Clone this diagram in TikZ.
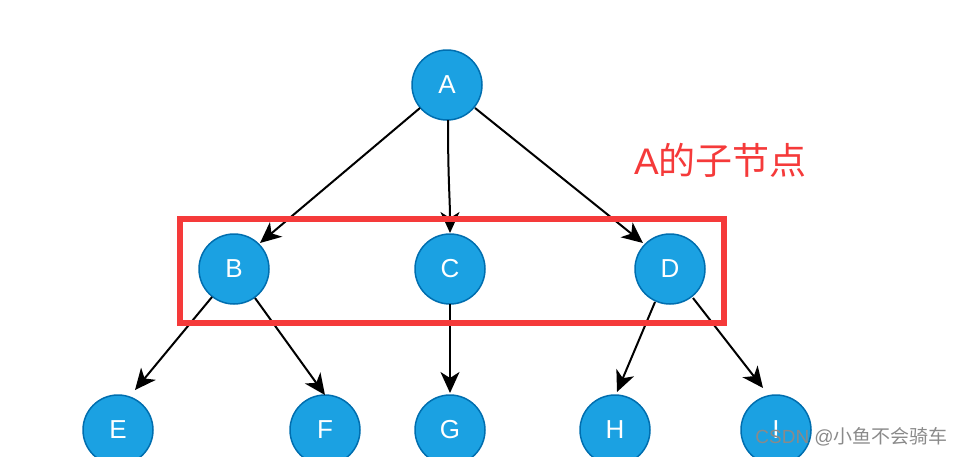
\documentclass[tikz,border=0pt]{standalone}
\usepackage{fontspec}
\setmainfont{Liberation Sans}
\newfontfamily\cjk{Noto Sans CJK SC}
\usetikzlibrary{arrows.meta}
\definecolor{nodefill}{HTML}{1BA1E2}
\definecolor{nodeline}{HTML}{006EAF}
\definecolor{boxred}{HTML}{F53A3A}
\definecolor{wmgrey}{HTML}{8A8A8A}
\tikzset{
  tnode/.style={circle, fill=nodefill, draw=nodeline, line width=1.5pt,
    minimum size=70pt, inner sep=0pt, text=white,
    font=\fontsize{26}{26}\selectfont},
  conn/.style={line width=2pt, -{Stealth[length=21pt,width=19pt,inset=6pt]}},
}
\begin{document}
\begin{tikzpicture}[x=1pt,y=-1pt]
\useasboundingbox (0,0) rectangle (963,456);
% nodes
\node[tnode] (A) at (447,85) {A};
\node[tnode] (B) at (234,269) {B};
\node[tnode] (C) at (450,269) {C};
\node[tnode] (D) at (670,269) {D};
\node[tnode] (E) at (118,430) {E};
\node[tnode] (F) at (325,430) {F};
\node[tnode] (G) at (450,430) {G};
\node[tnode] (H) at (615,430) {H};
\node[tnode] (I) at (776,430) {I};
% connectors
\draw[conn] ([shift={(-27,23)}]A.center) -- ([shift={(26,-26)}]B.center);
\draw[conn] ([shift={(1,35)}]A.center) .. controls ([shift={(1,95)}]A.center) and ([shift={(0,-70)}]C.center) .. ([shift={(0,-36)}]C.center);
\draw[conn] ([shift={(28,23)}]A.center) -- ([shift={(-27,-26)}]D.center);
\draw[conn] ([shift={(-22,28)}]B.center) -- ([shift={(17,-40)}]E.center);
\draw[conn] ([shift={(21,29)}]B.center) -- ([shift={(0,-35)}]F.center);
\draw[conn] ([shift={(0,35)}]C.center) -- ([shift={(0,-37)}]G.center);
\draw[conn] ([shift={(-15,33)}]D.center) -- ([shift={(2,-38)}]H.center);
\draw[conn] ([shift={(23,29)}]D.center) -- ([shift={(-13,-42)}]I.center);
% highlight box
\draw[boxred, line width=6pt] (180,219) rectangle (724,323);
% label
\node[text=boxred, font=\fontsize{37}{37}\selectfont, inner sep=0pt, anchor=west] (lbl) at (634,160) {A{\cjk 的子节点}};
% watermark
\node[text=wmgrey, font=\fontsize{19}{19}\selectfont, inner sep=0pt, anchor=east] (wm) at (948,437) {CSDN @{\cjk 小鱼不会骑车}};
\end{tikzpicture}
\end{document}
